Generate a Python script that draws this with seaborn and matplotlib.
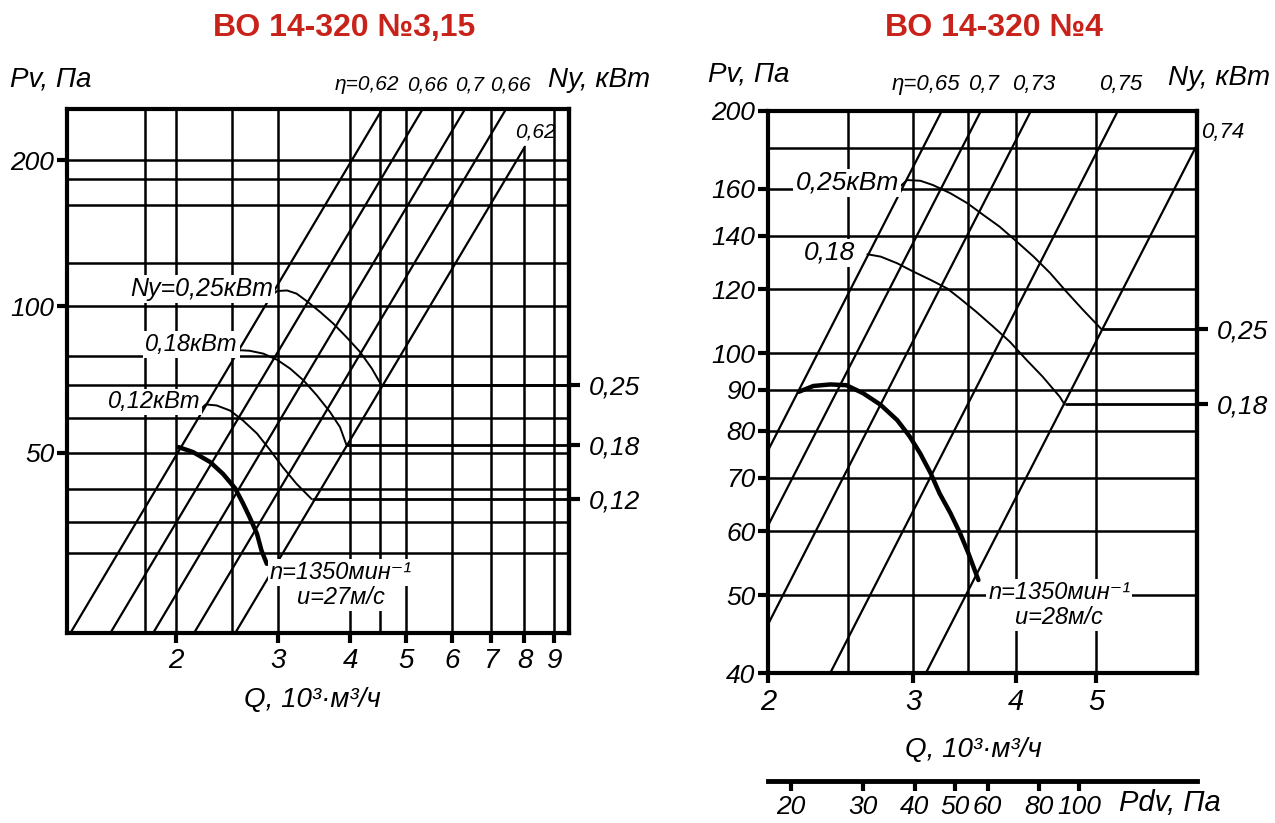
import numpy as np
import pandas as pd
import matplotlib
matplotlib.use("Agg")
import matplotlib.pyplot as plt
from matplotlib.ticker import NullLocator, NullFormatter
import seaborn as sns

# ---------------------------------------------------------------- data
# left chart: ВО 14-320 №3,15  (Q in 10^3 m3/h, Pv in Pa)
left_title = "ВО 14-320 №3,15"
left_fan_q = [2.02, 2.14, 2.29, 2.41, 2.53, 2.61, 2.68, 2.76, 2.81, 2.87]
left_fan_p = [51.3, 50.1, 47.8, 45.2, 42.2, 39.3, 36.8, 34.0, 31.4, 29.5]
left_n025_q = [2.93, 2.99, 3.11, 3.23, 3.36, 3.55, 3.74, 3.94, 4.16, 4.36, 4.53]
left_n025_p = [105.5, 107.5, 107.8, 106.2, 102.6, 97.3, 92.1, 86.4, 80.5, 74.4, 68.7]
left_n018_q = [2.55, 2.58, 2.68, 2.83, 2.99, 3.15, 3.32, 3.50, 3.69, 3.84, 3.94]
left_n018_p = [80.0, 81.2, 81.0, 79.9, 77.6, 74.4, 70.4, 65.6, 60.6, 56.4, 51.8]
left_n012_q = [2.21, 2.25, 2.35, 2.48, 2.61, 2.76, 2.91, 3.06, 3.23, 3.43]
left_n012_p = [61.5, 62.8, 62.5, 61.0, 58.2, 54.7, 50.5, 46.6, 43.1, 40.1]
left_curve_labels = ["Ny=0,25кВт", "0,18кВт", "0,12кВт"]
left_ny_labels = ["0,25", "0,18", "0,12"]
left_ny_p = [68.7, 51.8, 40.1]
left_eta_labels = ["η=0,62", "0,66", "0,7", "0,66", "0,62"]
left_eta_q0 = [1.306, 1.531, 1.815, 2.136, 2.516]
left_eta_p0 = [21.0, 21.0, 21.0, 21.0, 21.0]
left_eta_q1 = [4.59, 5.39, 6.38, 7.51, 8.01]
left_eta_p1 = [260.0, 260.0, 260.0, 260.0, 213.0]
left_hgrid = [200, 183, 162, 123, 100, 79, 69, 59, 50, 42, 36, 31]
left_vgrid = [1.77, 2, 2.5, 3, 4, 4.5, 5, 6, 7, 8, 9]
left_xticks = [2, 3, 4, 5, 6, 7, 8, 9]
left_yticks = [50, 100, 200]
left_fan_text = ["n=1350мин⁻¹", "u=27м/с"]

# right chart: ВО 14-320 №4
right_title = "ВО 14-320 №4"
right_fan_q = [2.18, 2.27, 2.38, 2.49, 2.61, 2.74, 2.87, 2.97, 3.06, 3.15, 3.23, 3.33, 3.42, 3.50, 3.60]
right_fan_p = [89.5, 91.0, 91.4, 91.2, 89.1, 86.2, 82.5, 78.8, 75.0, 70.9, 66.9, 63.2, 59.7, 56.4, 52.2]
right_n025_q = [2.90, 2.95, 3.06, 3.17, 3.33, 3.49, 3.65, 3.82, 4.01, 4.20, 4.40, 4.60, 4.82, 5.08]
right_n025_p = [161.5, 164.1, 163.8, 161.8, 158.0, 153.6, 148.5, 143.6, 137.5, 131.8, 125.7, 119.3, 113.2, 107.0]
right_n018_q = [2.64, 2.74, 2.87, 3.00, 3.15, 3.30, 3.42, 3.58, 3.75, 3.93, 4.12, 4.31, 4.52, 4.58]
right_n018_p = [132.7, 131.8, 129.3, 126.3, 123.3, 120.3, 116.9, 112.5, 107.9, 103.3, 98.0, 93.4, 88.2, 86.3]
right_curve_labels = ["0,25кВт", "0,18"]
right_ny_labels = ["0,25", "0,18"]
right_ny_p = [107.0, 86.3]
right_eta_labels = ["η=0,65", "0,7", "0,73", "0,75", "0,74"]
right_eta_q0 = [1.95, 1.95, 1.95, 2.35, 3.07]
right_eta_p0 = [71.9, 58.0, 43.7, 39.0, 39.0]
right_eta_q1 = [3.29, 3.67, 4.22, 5.38, 6.70]
right_eta_p1 = [205.0, 205.0, 205.0, 205.0, 185.4]
right_hgrid = [180, 160, 140, 120, 100, 90, 80, 70, 60, 50]
right_vgrid = [2.5, 3, 3.5, 4, 5]
right_xticks = [2, 3, 4, 5]
right_yticks = [40, 50, 60, 70, 80, 90, 100, 120, 140, 160, 200]
right_fan_text = ["n=1350мин⁻¹", "u=28м/с"]
pdv_ticks = [20, 30, 40, 50, 60, 80, 100]
pdv_coef = 4.4  # Pdv = coef * Q^2

# ---------------------------------------------------------------- style
sns.set_theme(style="white")
plt.rcParams["font.family"] = ["Liberation Sans", "DejaVu Sans"]
plt.rcParams["font.style"] = "italic"
plt.rcParams["axes.edgecolor"] = "black"
plt.rcParams["xtick.color"] = "black"
plt.rcParams["ytick.color"] = "black"
plt.rcParams["text.color"] = "black"

RED = "#C8231B"
WB = dict(boxstyle="square,pad=0.08", fc="white", ec="none")
GRID_LW = 1.8
ETA_LW = 1.6
THIN_LW = 1.4
FAN_LW = 3.2

fig = plt.figure(figsize=(12.75, 8.23), dpi=100)
axL = fig.add_axes([0.05255, 0.23147, 0.39373, 0.63669])
axR = fig.add_axes([0.60235, 0.18226, 0.33647, 0.68287])
LXLIM, LYLIM = (1.296, 9.55), (21.3, 255.4)
RXLIM, RYLIM = (2.0, 6.63), (40.0, 200.0)


def setup(ax, xlim, ylim, xticks, yticks, xsize, ysize):
    ax.set_xscale("log")
    ax.set_yscale("log")
    ax.set_xlim(*xlim)
    ax.set_ylim(*ylim)
    ax.set_xticks(xticks, labels=[str(t) for t in xticks])
    ax.set_yticks(yticks, labels=[str(t) for t in yticks])
    for a in (ax.xaxis, ax.yaxis):
        a.set_minor_locator(NullLocator())
        a.set_minor_formatter(NullFormatter())
    ax.tick_params(axis="x", which="major", bottom=True, top=False, direction="out",
                   length=7, width=3, labelsize=xsize, pad=4)
    ax.tick_params(axis="y", which="major", left=True, right=False, direction="out",
                   length=7, width=3, labelsize=ysize, pad=2)
    for s in ax.spines.values():
        s.set_visible(True)
        s.set_linewidth(3)
        s.set_color("black")
        s.set_zorder(6)


def eta_lines(ax, q0, p0, q1, p1):
    rows = []
    for i in range(len(q0)):
        rows.append(pd.DataFrame({"Q": [q0[i], q1[i]], "P": [p0[i], p1[i]], "line": i}))
    df = pd.concat(rows, ignore_index=True)
    sns.lineplot(data=df, x="Q", y="P", units="line", estimator=None, sort=False,
                 color="black", lw=ETA_LW, ax=ax, legend=False, zorder=2)


def curve(ax, q, p, lw):
    sns.lineplot(x=q, y=p, ax=ax, color="black", lw=lw, sort=False,
                 estimator=None, zorder=3)


def right_ny_axis(ax, ny_p, ny_labels):
    sec = ax.secondary_yaxis("right")
    sec.set_yticks(ny_p, labels=ny_labels)
    sec.yaxis.set_minor_locator(NullLocator())
    sec.yaxis.set_minor_formatter(NullFormatter())
    sec.tick_params(axis="y", which="major", right=True, direction="out",
                    length=8, width=3, labelsize=19, pad=6)
    sec.spines["right"].set_linewidth(3)
    sec.spines["right"].set_color("black")


def lbl(ax, text, xy, off, ha, size, box=True, xycoords="data"):
    kw = dict(xy=xy, xycoords=xycoords, xytext=off, textcoords="offset points",
              ha=ha, va="center", fontsize=size, zorder=7, annotation_clip=False)
    if box:
        kw["bbox"] = WB
    ax.annotate(text, **kw)


# ---------------------------------------------------------------- left panel
setup(axL, LXLIM, LYLIM, left_xticks, left_yticks, 20, 19)
vtop = [left_eta_p1[-1] if q == 8 else LYLIM[1] for q in left_vgrid]
axL.hlines(left_hgrid, LXLIM[0], LXLIM[1], colors="black", lw=GRID_LW, zorder=1)
axL.vlines(left_vgrid, LYLIM[0], vtop, colors="black", lw=GRID_LW, zorder=1)
eta_lines(axL, left_eta_q0, left_eta_p0, left_eta_q1, left_eta_p1)
for q, p in [(left_n025_q, left_n025_p), (left_n018_q, left_n018_p), (left_n012_q, left_n012_p)]:
    curve(axL, q, p, THIN_LW)
curve(axL, left_fan_q, left_fan_p, FAN_LW)
ends = [left_n025_q[-1], left_n018_q[-1], left_n012_q[-1]]
axL.hlines(left_ny_p, ends, LXLIM[1], colors="black", lw=2.0, zorder=2)
right_ny_axis(axL, left_ny_p, left_ny_labels)

lbl(axL, left_curve_labels[0], (left_n025_q[0], left_n025_p[0]), (1.0, 4.5), "right", 18)
lbl(axL, left_curve_labels[1], (left_n018_q[0], left_n018_p[0]), (0.5, 6.5), "right", 17)
lbl(axL, left_curve_labels[2], (left_n012_q[0], left_n012_p[0]), (-0.5, 5.0), "right", 17)
lbl(axL, left_fan_text[0], (left_fan_q[-1], left_fan_p[-1]), (2, -6), "left", 17)
lbl(axL, left_fan_text[1], (left_fan_q[-1], left_fan_p[-1]), (22, -24), "left", 17)
for i, t in enumerate(left_eta_labels[:4]):
    qt = left_eta_q1[i] * (LYLIM[1] / left_eta_p1[i]) ** 0.5
    if i == 0:
        lbl(axL, t, (qt, 1.0), (12, 17), "right", 15, box=False, xycoords=("data", "axes fraction"))
    else:
        lbl(axL, t, (qt, 1.0), (3, 17), "center", 15, box=False, xycoords=("data", "axes fraction"))
lbl(axL, left_eta_labels[4], (left_eta_q1[4], left_eta_p1[4]), (-7, 11), "left", 15, box=False)
axL.text(0.488, -0.129, "Q, 10³·м³/ч", transform=axL.transAxes, ha="center", va="center", fontsize=20)
axL.set_xlabel("")
axL.set_ylabel("")

# ---------------------------------------------------------------- right panel
setup(axR, RXLIM, RYLIM, right_xticks, right_yticks, 21, 19)
axR.hlines(right_hgrid, RXLIM[0], RXLIM[1], colors="black", lw=GRID_LW, zorder=1)
axR.vlines(right_vgrid, RYLIM[0], RYLIM[1], colors="black", lw=GRID_LW, zorder=1)
eta_lines(axR, right_eta_q0, right_eta_p0, right_eta_q1, right_eta_p1)
for q, p in [(right_n025_q, right_n025_p), (right_n018_q, right_n018_p)]:
    curve(axR, q, p, THIN_LW)
curve(axR, right_fan_q, right_fan_p, FAN_LW)
ends = [right_n025_q[-1], right_n018_q[-1]]
axR.hlines(right_ny_p, ends, RXLIM[1], colors="black", lw=2.0, zorder=2)
right_ny_axis(axR, right_ny_p, right_ny_labels)

lbl(axR, right_curve_labels[0], (right_n025_q[0], right_n025_p[0]), (-1.5, 2.0), "right", 19)
lbl(axR, right_curve_labels[1], (right_n018_q[0], right_n018_p[0]), (-9, 1), "right", 19)
lbl(axR, right_fan_text[0], (right_fan_q[-1], right_fan_p[-1]), (7, -9), "left", 17)
lbl(axR, right_fan_text[1], (right_fan_q[-1], right_fan_p[-1]), (26, -27), "left", 17)
for i, t in enumerate(right_eta_labels[:4]):
    qt = right_eta_q1[i] * (RYLIM[1] / right_eta_p1[i]) ** 0.5
    if i == 0:
        lbl(axR, t, (qt, 1.0), (13, 19), "right", 16, box=False, xycoords=("data", "axes fraction"))
    else:
        lbl(axR, t, (qt, 1.0), (2, 19), "center", 16, box=False, xycoords=("data", "axes fraction"))
lbl(axR, right_eta_labels[4], (RXLIM[1], right_eta_p1[4] * (RXLIM[1] / right_eta_q1[4]) ** 2),
    (3, 9), "left", 16, box=False)
axR.text(0.478, -0.137, "Q, 10³·м³/ч", transform=axR.transAxes, ha="center", va="center", fontsize=20)
axR.set_xlabel("")
axR.set_ylabel("")

# dynamic pressure scale below the right chart
secx = axR.secondary_xaxis(-0.193, functions=(lambda q: pdv_coef * np.asarray(q) ** 2,
                                               lambda p: np.sqrt(np.clip(np.asarray(p, float), 1e-9, None) / pdv_coef)))
secx.set_xticks(pdv_ticks, labels=[str(t) for t in pdv_ticks])
secx.xaxis.set_minor_locator(NullLocator())
secx.xaxis.set_minor_formatter(NullFormatter())
secx.tick_params(axis="x", which="major", direction="out", length=7, width=3, labelsize=19, pad=3)
secx.spines["bottom"].set_linewidth(3.5)
secx.spines["bottom"].set_color("black")
axR.text(0.818, -0.232, "Pdv, Па", transform=axR.transAxes, ha="left", va="center", fontsize=21)

# ---------------------------------------------------------------- headings
for x, t in [(0.2698, left_title), (0.7796, right_title)]:
    fig.text(x, 0.966, t, ha="center", va="center", fontsize=23, fontweight="bold",
             fontstyle="normal", color=RED)
fig.text(0.0078, 0.9028, "Pv, Па", ha="left", va="center", fontsize=20)
fig.text(0.4298, 0.9028, "Ny, кВт", ha="left", va="center", fontsize=20)
fig.text(0.5553, 0.9089, "Pv, Па", ha="left", va="center", fontsize=20)
fig.text(0.9161, 0.9052, "Ny, кВт", ha="left", va="center", fontsize=20)

fig.savefig("out.png", dpi=100)
